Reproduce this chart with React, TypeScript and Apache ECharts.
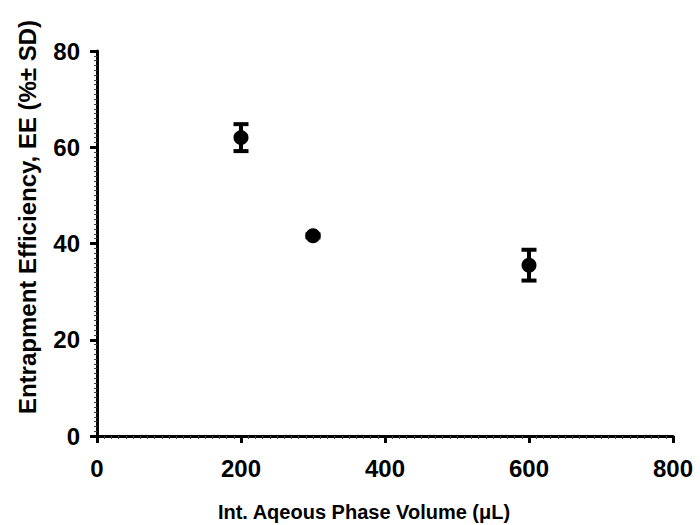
import React, { useEffect, useRef } from "react";
import * as echarts from "echarts";

const volumes = [200, 300, 600];
const efficiency = [62.0, 41.6, 35.5];
const sd = [2.8, 0.3, 3.2];
const xTicks = [0, 200, 400, 600, 800];
const yTicks = [0, 20, 40, 60, 80];
const xTitle = "Int. Aqeous Phase Volume (\u03bcL)";
const yTitle = "Entrapment Efficiency, EE (%\u00b1 SD)";

const FONT = "Liberation Sans, Arial, sans-serif";

export default function App() {
  const ref = useRef<HTMLDivElement>(null);
  useEffect(() => {
    if (!ref.current) return;
    const chart = echarts.init(ref.current, undefined, { renderer: "svg" });
    const points = volumes.map((v, i) => [v, efficiency[i]]);
    const errs = volumes.map((v, i) => [v, efficiency[i] - sd[i], efficiency[i] + sd[i]]);
    chart.setOption({
      animation: false,
      backgroundColor: "#ffffff",
      grid: { left: 97, right: 27, top: 51, bottom: 89, containLabel: false },
      graphic: [
        {
          type: "text",
          x: 364,
          y: 512,
          style: {
            text: xTitle,
            align: "center",
            verticalAlign: "middle",
            fontFamily: FONT,
            fontWeight: "bold",
            fontSize: 20,
            fill: "#000",
          },
        },
        {
          type: "text",
          x: 27,
          y: 217,
          rotation: Math.PI / 2,
          style: {
            text: yTitle,
            align: "center",
            verticalAlign: "middle",
            fontFamily: FONT,
            fontWeight: "bold",
            fontSize: 24,
            fill: "#000",
          },
        },
      ],
      xAxis: {
        type: "value",
        min: xTicks[0],
        max: xTicks[xTicks.length - 1],
        interval: 200,
        axisLine: { show: true, lineStyle: { color: "#000", width: 3 } },
        axisTick: { show: true, length: 7, lineStyle: { color: "#000", width: 3 } },
        minorTick: { show: true, splitNumber: 20, length: 3, lineStyle: { color: "#444", width: 1 } },
        splitLine: { show: false },
        axisLabel: { margin: 20, fontFamily: FONT, fontWeight: "bold", fontSize: 24, color: "#000" },
      },
      yAxis: {
        type: "value",
        min: yTicks[0],
        max: yTicks[yTicks.length - 1],
        interval: 20,
        axisLine: { show: true, lineStyle: { color: "#000", width: 3 } },
        axisTick: { show: true, length: 7, lineStyle: { color: "#000", width: 3 } },
        minorTick: { show: true, splitNumber: 20, length: 3, lineStyle: { color: "#444", width: 1 } },
        splitLine: { show: false },
        axisLabel: { margin: 17, fontFamily: FONT, fontWeight: "bold", fontSize: 24, color: "#000" },
      },
      series: [
        {
          type: "custom",
          data: errs,
          z: 3,
          renderItem: (params: any, api: any) => {
            const x = api.value(0);
            const lo = api.coord([x, api.value(1)]);
            const hi = api.coord([x, api.value(2)]);
            const half = 7.5;
            const style = { stroke: "#000", lineWidth: 4 };
            return {
              type: "group",
              children: [
                { type: "line", shape: { x1: lo[0], y1: lo[1], x2: hi[0], y2: hi[1] }, style },
                { type: "line", shape: { x1: hi[0] - half, y1: hi[1], x2: hi[0] + half, y2: hi[1] }, style },
                { type: "line", shape: { x1: lo[0] - half, y1: lo[1], x2: lo[0] + half, y2: lo[1] }, style },
              ],
            };
          },
        },
        {
          type: "scatter",
          data: points,
          symbol: "circle",
          symbolSize: 15,
          z: 4,
          itemStyle: { color: "#000", opacity: 1 },
        },
      ],
    });
    return () => chart.dispose();
  }, []);
  return <div ref={ref} style={{ width: 700, height: 525, position: "absolute", left: 0, top: 0 }} />;
}
